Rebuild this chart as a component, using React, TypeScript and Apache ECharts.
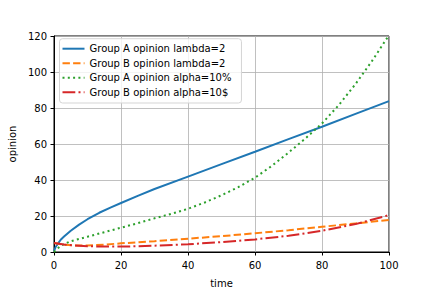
import React, { useEffect, useRef } from "react";
import * as echarts from "echarts";

const seriesNames = [
  "Group A opinion lambda=2",
  "Group B opinion lambda=2",
  "Group A opinion alpha=10%",
  "Group B opinion alpha=10$",
];

const aLambdaX = [0, 0.5, 1, 2, 3, 5, 7.5, 10, 13.5, 17, 20, 25, 30, 40, 50, 60, 70, 80, 90, 100];
const aLambdaY = [0.5, 2.8, 4.2, 6.8, 8.6, 11.8, 15.2, 18.2, 21.8, 24.8, 27.2, 31.2, 35, 41.9, 48.8, 55.7, 62.7, 69.6, 76.7, 83.8];

const bLambdaX = [0, 3, 6, 10, 15, 20, 30, 40, 50, 60, 70, 80, 90, 100];
const bLambdaY = [5, 4, 3.6, 3.6, 4.1, 4.8, 6, 7.4, 8.8, 10.4, 12.1, 14, 15.9, 17.8];

const aAlphaX = [0, 2, 5, 10, 15, 20, 25, 30, 35, 40, 45, 50, 55, 60, 65, 70, 75, 80, 85, 90, 95, 100];
const aAlphaY = [0, 3.5, 6, 8.5, 11, 13.5, 16, 18.7, 21.2, 24, 27.5, 31.5, 36, 41.3, 47.8, 55.2, 63, 71.4, 81.6, 93.3, 106.3, 120.5];

const bAlphaX = [0, 3, 6, 10, 15, 20, 25, 30, 40, 50, 60, 70, 80, 90, 100];
const bAlphaY = [5, 4.2, 3.6, 3.2, 3, 3, 3.2, 3.5, 4.3, 5.5, 7, 9, 11.8, 15.5, 20.5];

const xTicks = [0, 20, 40, 60, 80, 100];
const yTicks = [0, 20, 40, 60, 80, 100, 120];

const zip = (xs: number[], ys: number[]) => xs.map((x, i) => [x, ys[i]]);

export default function App() {
  const ref = useRef<HTMLDivElement>(null);
  useEffect(() => {
    if (!ref.current) return;
    const chart = echarts.init(ref.current, undefined, { renderer: "svg" });
    const font = "DejaVu Sans";
    const mk = (name: string, data: number[][], color: string, type: any) => ({
      name,
      type: "line",
      data,
      symbol: "circle",
      showSymbol: false,
      smooth: false,
      lineStyle: { color, width: 2, type, cap: "butt" },
      itemStyle: { color },
    });
    chart.setOption({
      animation: false,
      backgroundColor: "#ffffff",
      textStyle: { fontFamily: font },
      grid: {
        left: 54,
        right: 43,
        top: 36,
        bottom: 36,
        containLabel: false,
        outerBoundsMode: "none",
        show: true,
        borderColor: "#000",
        borderWidth: 1,
        backgroundColor: "transparent",
      },
      legend: {
        orient: "vertical",
        left: 59.5,
        top: 38.7,
        padding: [5, 10, 5.8, 2],
        itemWidth: 22,
        itemHeight: 10,
        itemGap: 4.5,
        itemTextGap: 7,
        backgroundColor: "rgba(255,255,255,0.8)",
        borderColor: "#d5d5d5",
        borderWidth: 1,
        borderRadius: 3,
        itemStyle: { opacity: 0 },
        textStyle: { fontFamily: font, fontSize: 10, color: "#000" },
        data: seriesNames,
      },
      xAxis: {
        type: "value",
        min: 0,
        max: 100,
        interval: 20,
        name: "time",
        nameLocation: "middle",
        nameGap: 26,
        nameTextStyle: { fontFamily: font, fontSize: 10, color: "#000" },
        axisLine: { show: true, lineStyle: { color: "#000", width: 1 } },
        axisTick: { show: true, length: 3.5, inside: false, lineStyle: { color: "#000" } },
        axisLabel: {
          fontFamily: font,
          fontSize: 10,
          color: "#000",
          margin: 8,
          customValues: xTicks,
        },
        splitLine: { show: true, lineStyle: { color: "#b0b0b0", width: 0.8 } },
      },
      yAxis: {
        type: "value",
        min: 0,
        max: 120,
        interval: 20,
        name: "opinion",
        nameLocation: "middle",
        nameGap: 33,
        nameTextStyle: { fontFamily: font, fontSize: 10, color: "#000" },
        axisLine: { show: true, lineStyle: { color: "#000", width: 1 } },
        axisTick: { show: true, length: 3.5, lineStyle: { color: "#000" } },
        axisLabel: {
          fontFamily: font,
          fontSize: 10,
          color: "#000",
          margin: 7,
          customValues: yTicks,
        },
        splitLine: { show: true, lineStyle: { color: "#b0b0b0", width: 0.8 } },
      },
      series: [
        mk(seriesNames[0], zip(aLambdaX, aLambdaY), "#1f77b4", "solid"),
        mk(seriesNames[1], zip(bLambdaX, bLambdaY), "#ff7f0e", [7.4, 3.2]),
        mk(seriesNames[2], zip(aAlphaX, aAlphaY), "#2ca02c", [2, 3.3]),
        mk(seriesNames[3], zip(bAlphaX, bAlphaY), "#d62728", [12.8, 3.2, 2, 3.2]),
      ],
    });
    return () => chart.dispose();
  }, []);
  return <div ref={ref} style={{ width: 432, height: 288, position: "absolute", left: 0, top: 0 }} />;
}
